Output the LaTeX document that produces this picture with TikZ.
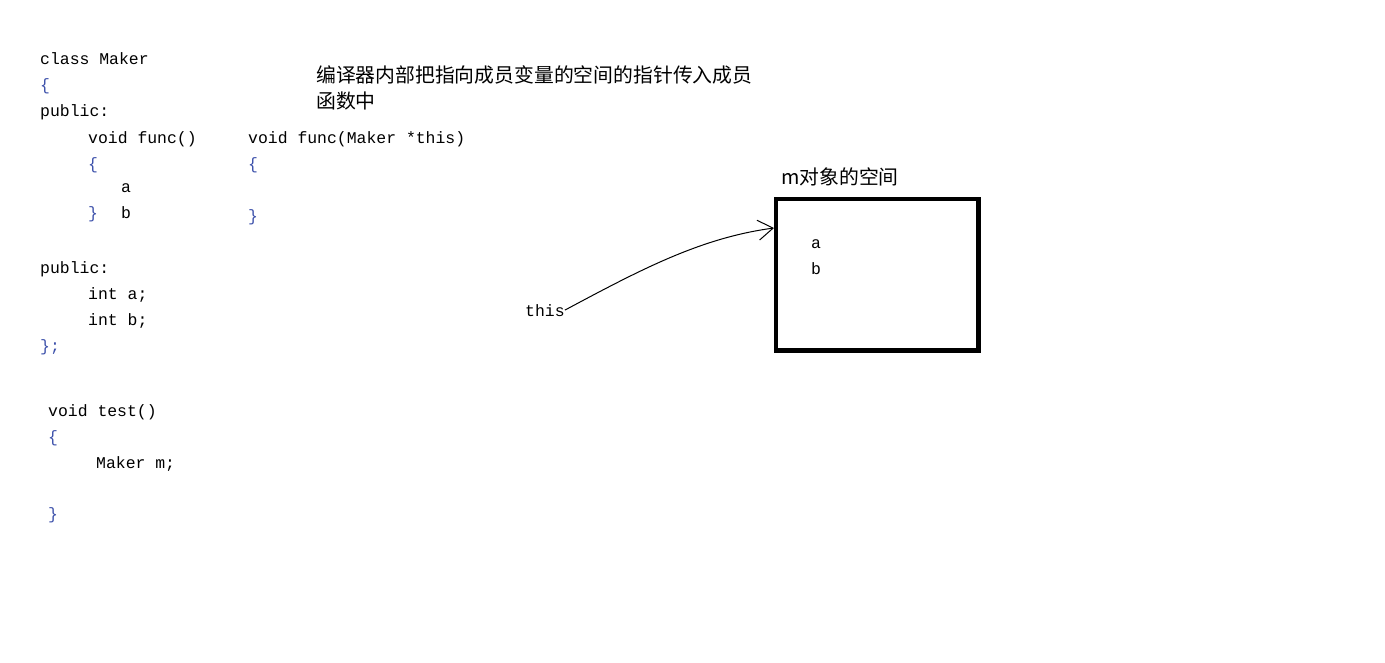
\documentclass[tikz,border=0pt]{standalone}
\usepackage{fontspec}
\setmonofont{Liberation Mono}
\newfontfamily\cjk{Noto Sans CJK SC}
\definecolor{codeblue}{RGB}{60,80,170}
\usetikzlibrary{arrows.meta}

\begin{document}
\begin{tikzpicture}[x=1bp, y=-1bp]
    \tikzstyle{code} = [anchor=base west, inner sep=0pt, font=\fontsize{16.5}{18}\selectfont\ttfamily]
    \tikzstyle{brace} = [code, text=codeblue]
    \tikzstyle{note} = [anchor=base west, inner sep=0pt, font=\fontsize{19.9}{22}\selectfont\cjk]
    \tikzstyle{space} = [rectangle, draw, line width=4.5bp, minimum width=202.5bp, minimum height=151.5bp]
    \tikzstyle{arrow} = [line width=1bp, -{Straight Barb[length=15bp,width=20bp]}]

    \useasboundingbox (0,0) rectangle (1385,663);

    % class Maker
    \node [code] (cls) at (40,65) {class Maker};
    \node [brace] (clsopen) at (40,91) {\{};
    \node [code] (pub1) at (40,117) {public:};
    \node [code] (func) at (88,143) {void func()};
    \node [brace] (fopen) at (88,169) {\{};
    \node [code] (fa) at (121,192) {a};
    \node [brace] (fclose) at (88,218) {\}};
    \node [code] (fb) at (121,218) {b};
    \node [code] (pub2) at (40,273) {public:};
    \node [code] (inta) at (88,299) {int a;};
    \node [code] (intb) at (88,325) {int b;};
    \node [brace] (clsclose) at (40,351) {\};};

    % void test()
    \node [code] (test) at (48,416) {void test()};
    \node [brace] (topen) at (48,442) {\{};
    \node [code] (makerm) at (96,468) {Maker m;};
    \node [brace] (tclose) at (48,519) {\}};

    % func with this
    \node [code] (thisfunc) at (248,143) {void func(Maker *this)};
    \node [brace] (thisopen) at (248,169) {\{};
    \node [brace] (thisclose) at (248,221) {\}};

    \node [note] (note1) at (316,82.5) {编译器内部把指向成员变量的空间的指针传入成员};
    \node [note] (note2) at (316,108.5) {函数中};

    % m object
    \node [note] (mlabel) at (781,184.5) {m对象的空间};
    \node [space] (mbox) at (877.25,274.75) {};
    \node [code] (ma) at (811,248) {a};
    \node [code] (mb) at (811,274) {b};

    \node [code] (this) at (525,316) {this};
    \coordinate (mtip) at (774,228);
    \draw [arrow] (this.east) .. controls (640,270) and (700,238) .. (mtip);
\end{tikzpicture}
\end{document}
